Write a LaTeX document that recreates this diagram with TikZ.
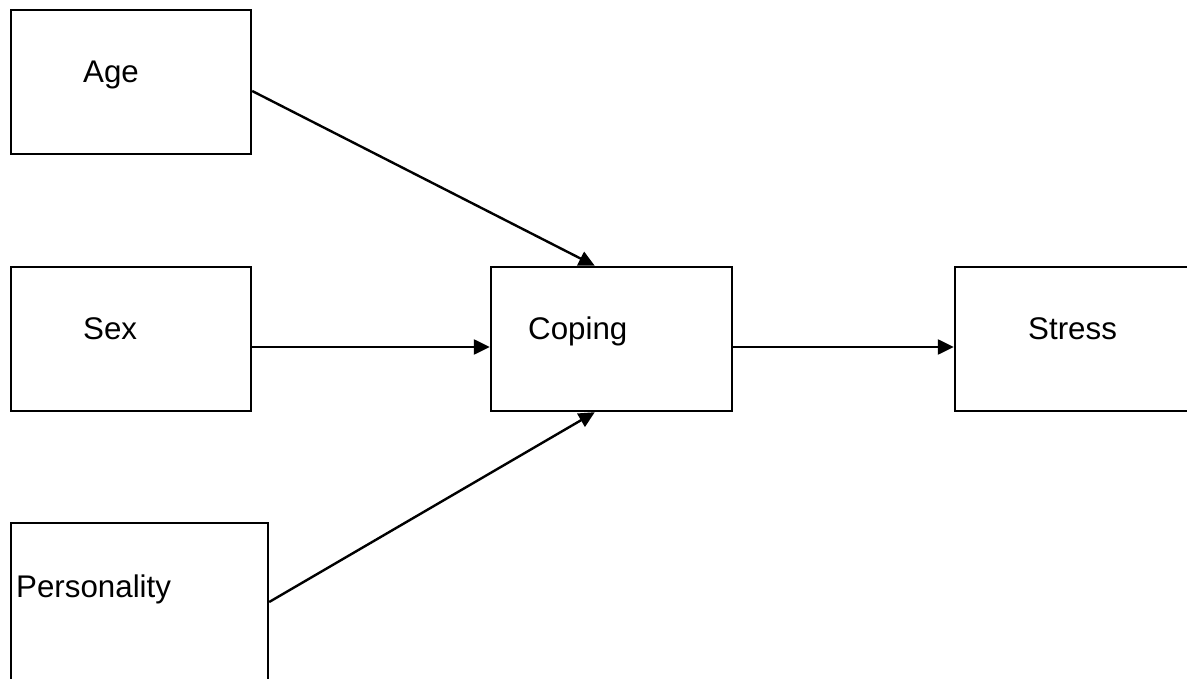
\documentclass[tikz,border=0pt]{standalone}
\usepackage{fontspec}
\setmainfont{Liberation Sans}
\usetikzlibrary{positioning}
\usetikzlibrary{arrows.meta}

\begin{document}
\begin{tikzpicture}[x=1pt,y=-1pt,
    box/.style={draw, rectangle, line width=2.4pt, inner sep=0pt, minimum height=144pt},
    lbl/.style={inner sep=0pt, anchor=base west, font=\fontsize{31.3}{36}\selectfont},
    link/.style={-{Triangle[length=16pt,width=15pt]}, line width=2.4pt}]
            \useasboundingbox (0,0) rectangle (1187,679);
            % Coping model
            \node[box, minimum width=240pt] (age) at (131,82) {};
            \node[box, minimum width=240pt] (sex) at (131,339) {};
            \node[box, minimum width=257pt, minimum height=160pt] (pers) at (139.5,603) {};
            \node[box, minimum width=241pt] (coping) at (611.5,339) {};
            \node[box, minimum width=241pt] (stress) at (1075.5,339) {};

            \node[lbl] (agetext) at (83,83) {Age};
            \node[lbl] (sextext) at (83,340) {Sex};
            \node[lbl] (perstext) at (16,597) {Personality};
            \node[lbl] (copingtext) at (528,340) {Coping};
            \node[lbl] (stresstext) at (1028,340) {Stress};

            \draw[link] ([yshift=-9pt]age.east) -- ([xshift=105pt]coping.north west);
            \draw[link] ([yshift=-8pt]sex.east) -- ([yshift=-8pt]coping.west);
            \draw[link] ([yshift=1pt]pers.east) -- ([xshift=105pt]coping.south west);
            \draw[link] ([yshift=-8pt]coping.east) -- ([yshift=-8pt]stress.west);
        \end{tikzpicture}
\end{document}
